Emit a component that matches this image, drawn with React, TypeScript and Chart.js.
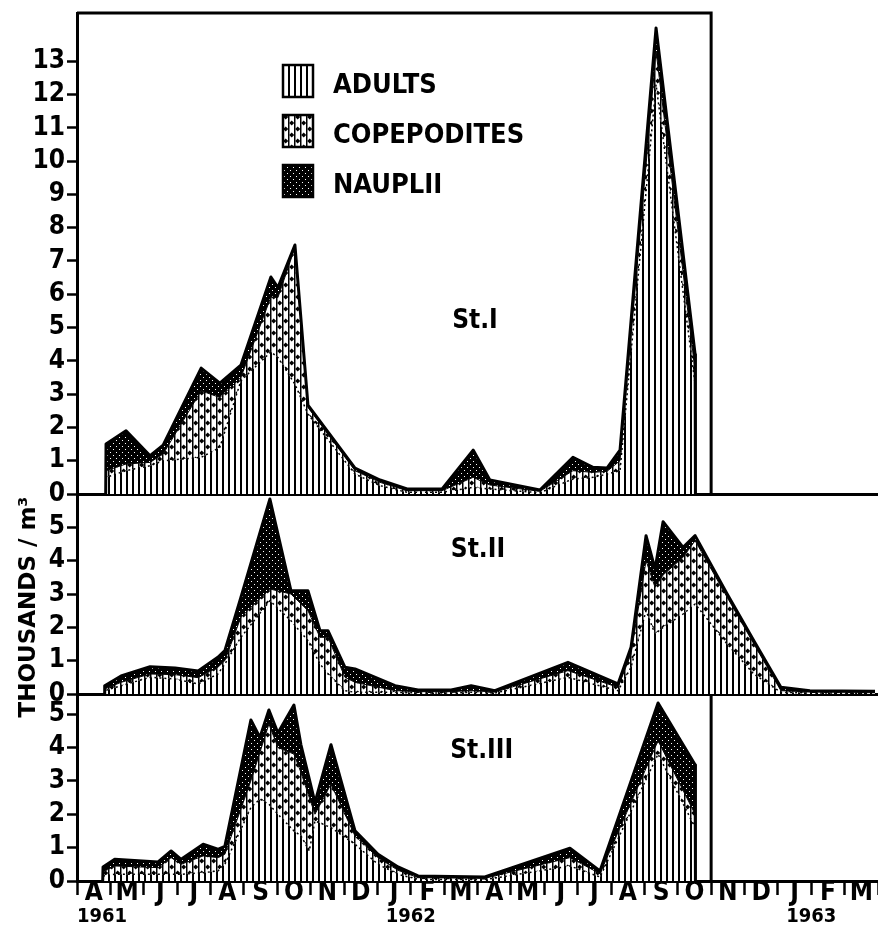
import React, { useEffect, useRef } from 'react';
import { Chart, registerables } from 'chart.js';

Chart.register(...registerables);

// ---------- DATA ----------
// x positions are months counted from 1 April 1961 (0 = start of April 1961)
const MONTH_LETTERS = ['A', 'M', 'J', 'J', 'A', 'S', 'O', 'N', 'D', 'J', 'F', 'M', 'A', 'M', 'J', 'J', 'A', 'S', 'O', 'N', 'D', 'J', 'F', 'M'];
const YEAR_LABELS = ['1961', '1962', '1963'];
const YEAR_POSITIONS = [0.75, 10, 22];
const Y1_TICKS = [0, 1, 2, 3, 4, 5, 6, 7, 8, 9, 10, 11, 12, 13];
const Y2_TICKS = [0, 1, 2, 3, 4, 5];
const Y3_TICKS = [0, 1, 2, 3, 4, 5];
const SERIES_NAMES = ['ADULTS', 'COPEPODITES', 'NAUPLII'];
const STATION_NAMES = ['St.I', 'St.II', 'St.III'];

// Station I (thousands / m3)
const ST1_MONTHS = [0.86, 0.87, 1.47, 2.19, 2.58, 3.72, 4.28, 4.91, 5.81, 6.02, 6.53, 6.92, 8.33, 9.08, 9.89, 10.94, 11.87, 12.37, 13.87, 14.86, 15.46, 15.88, 16.27, 17.35, 18.52, 18.53];
const ST1_ADULTS = [0, 0.5, 0.7, 0.85, 1.0, 1.1, 1.4, 3.4, 4.27, 4.1, 3.3, 2.4, 0.6, 0.25, 0.05, 0.05, 0.2, 0.15, 0.04, 0.45, 0.5, 0.6, 0.7, 12.3, 3.3, 0];
const ST1_COPEPODITES = [0, 0.2, 0.2, 0.1, 0.2, 2.0, 1.5, 0.1, 1.65, 1.8, 4.1, 0.2, 0.1, 0.1, 0.05, 0.05, 0.3, 0.12, 0.04, 0.25, 0.15, 0.08, 0.3, 1.0, 0.4, 0];
const ST1_NAUPLII = [0, 0.8, 1.0, 0.2, 0.27, 0.68, 0.43, 0.37, 0.6, 0.3, 0.08, 0.07, 0.08, 0.07, 0.05, 0.05, 0.82, 0.15, 0.04, 0.4, 0.15, 0.1, 0.32, 0.7, 0.5, 0];

// Station II
const ST2_MONTHS = [0.82, 0.83, 1.32, 2.19, 2.94, 3.63, 4.22, 4.43, 4.91, 5.78, 6.41, 6.92, 7.28, 7.52, 8.03, 8.33, 9.53, 10.22, 11.21, 11.81, 12.52, 14.71, 16.21, 16.6, 17.05, 17.32, 17.56, 18.16, 18.52, 19.48, 20.28, 21.09, 21.96, 23.91];
const ST2_ADULTS = [0, 0.1, 0.25, 0.5, 0.45, 0.3, 0.6, 0.9, 1.7, 2.8, 2.2, 1.6, 0.9, 0.6, 0.1, 0.05, 0.05, 0.03, 0.03, 0.05, 0.03, 0.5, 0.1, 0.8, 2.5, 1.8, 2.0, 2.4, 2.7, 1.5, 0.6, 0.05, 0.03, 0.02];
const ST2_COPEPODITES = [0, 0.05, 0.1, 0.1, 0.13, 0.19, 0.2, 0.1, 0.6, 0.35, 0.8, 0.9, 0.8, 1.1, 0.4, 0.3, 0.05, 0.04, 0.04, 0.05, 0.03, 0.2, 0.1, 0.4, 1.5, 1.4, 1.57, 1.7, 1.9, 1.4, 0.9, 0.05, 0.03, 0.03];
const ST2_NAUPLII = [0, 0.1, 0.19, 0.22, 0.2, 0.2, 0.3, 0.3, 0.6, 2.7, 0.1, 0.6, 0.2, 0.2, 0.3, 0.4, 0.15, 0.05, 0.05, 0.15, 0.04, 0.25, 0.1, 0.2, 0.75, 0.55, 1.6, 0.3, 0.15, 0.1, 0.1, 0.1, 0.04, 0.03];

// Station III
const ST3_MONTHS = [0.77, 0.78, 1.13, 2.43, 2.82, 3.12, 3.78, 4.22, 4.43, 5.21, 5.48, 5.75, 6.02, 6.5, 6.71, 6.96, 7.13, 7.61, 8.33, 9.02, 9.62, 10.22, 12.22, 14.77, 15.67, 17.41, 18.52, 18.53];
const ST3_ADULTS = [0, 0.15, 0.2, 0.2, 0.2, 0.2, 0.25, 0.3, 0.5, 2.2, 2.45, 2.3, 2.0, 1.5, 1.35, 0.9, 1.8, 1.6, 1.1, 0.5, 0.2, 0.05, 0.04, 0.45, 0.12, 3.8, 1.6, 0];
const ST3_COPEPODITES = [0, 0.12, 0.25, 0.2, 0.5, 0.3, 0.5, 0.4, 0.3, 0.8, 1.4, 2.4, 2.0, 2.3, 1.9, 1.6, 0.2, 1.3, 0.25, 0.2, 0.12, 0.05, 0.04, 0.25, 0.1, 0.4, 0.4, 0];
const ST3_NAUPLII = [0, 0.15, 0.2, 0.17, 0.2, 0.15, 0.35, 0.25, 0.24, 1.82, 0.45, 0.42, 0.43, 1.47, 0.83, 0.55, 0.35, 1.18, 0.15, 0.1, 0.1, 0.05, 0.04, 0.28, 0.08, 1.13, 1.48, 0];

// ---------- STYLE ----------
const COND = '"DejaVu Sans Condensed", "Liberation Sans Narrow", "DejaVu Sans", sans-serif';
const WIDE = '"DejaVu Sans", sans-serif';

function makePatterns() {
  const mk = (w: number, h: number, draw: (c: CanvasRenderingContext2D) => void) => {
    const cv = document.createElement('canvas');
    cv.width = w;
    cv.height = h;
    const c = cv.getContext('2d')!;
    draw(c);
    return c.createPattern(cv, 'repeat')!;
  };
  const adults = mk(6, 6, (c) => {
    c.fillStyle = '#fff';
    c.fillRect(0, 0, 6, 6);
    c.fillStyle = '#000';
    c.fillRect(0, 0, 2, 6);
  });
  const cope = mk(12, 12, (c) => {
    c.fillStyle = '#fff';
    c.fillRect(0, 0, 12, 12);
    c.fillStyle = '#000';
    c.fillRect(0, 0, 1.5, 12);
    c.fillRect(6, 0, 1.5, 12);
    const dia = (x: number, y: number) => {
      c.beginPath();
      c.moveTo(x, y - 2.5);
      c.lineTo(x + 2.5, y);
      c.lineTo(x, y + 2.5);
      c.lineTo(x - 2.5, y);
      c.closePath();
      c.fill();
    };
    dia(3.7, 3);
    dia(9.7, 9);
  });
  const naup = mk(6, 6, (c) => {
    c.fillStyle = '#000';
    c.fillRect(0, 0, 6, 6);
    c.fillStyle = '#fff';
    c.fillRect(2, 2, 1, 1);
    c.fillRect(5, 5, 1, 1);
  });
  return [adults, cope, naup];
}

const decorPlugin = {
  id: 'decor',
  afterDatasetsDraw(chart: any) {
    const { ctx } = chart;
    const x = chart.scales.x;
    const y1 = chart.scales.y1;
    const y2 = chart.scales.y2;
    const y3 = chart.scales.y3;
    ctx.save();
    ctx.strokeStyle = '#000';
    ctx.lineWidth = 3;
    const xr = x.getPixelForValue(19);
    ctx.beginPath();
    ctx.moveTo(x.left, y1.top);
    ctx.lineTo(xr, y1.top);
    ctx.lineTo(xr, y1.bottom);
    ctx.stroke();
    ctx.beginPath();
    ctx.moveTo(xr, y3.top);
    ctx.lineTo(xr, y3.bottom);
    ctx.stroke();

    // station names
    ctx.fillStyle = '#000';
    ctx.textBaseline = 'middle';
    ctx.textAlign = 'left';
    ctx.font = `bold 26px ${COND}`;
    ctx.fillText(STATION_NAMES[0], x.getPixelForValue(11.24), y1.getPixelForValue(5.2));
    ctx.fillText(STATION_NAMES[1], x.getPixelForValue(11.2), y2.getPixelForValue(4.3));
    ctx.fillText(STATION_NAMES[2], x.getPixelForValue(11.18), y3.getPixelForValue(3.9));

    // legend
    const ds = chart.data.datasets;
    for (let i = 0; i < 3; i++) {
      const cy = 81 + i * 50;
      ctx.fillStyle = ds[i].backgroundColor;
      ctx.fillRect(283, cy - 16, 30, 32);
      ctx.lineWidth = 2.5;
      ctx.strokeRect(283, cy - 16, 30, 32);
      ctx.fillStyle = '#000';
      ctx.font = `bold 27px ${COND}`;
      ctx.fillText(ds[i].label, 333, cy + 5);
    }

    // y title
    ctx.translate(29, 607);
    ctx.rotate(-Math.PI / 2);
    ctx.textAlign = 'center';
    ctx.font = `bold 23px ${WIDE}`;
    ctx.fillText('THOUSANDS / m\u00B3', 0, 0);
    ctx.restore();
  },
};

export default function App() {
  const ref = useRef<HTMLCanvasElement | null>(null);

  useEffect(() => {
    const canvas = ref.current!;
    const patterns = makePatterns();
    const panels = [
      { axis: 'y1', months: ST1_MONTHS, layers: [ST1_ADULTS, ST1_COPEPODITES, ST1_NAUPLII] },
      { axis: 'y2', months: ST2_MONTHS, layers: [ST2_ADULTS, ST2_COPEPODITES, ST2_NAUPLII] },
      { axis: 'y3', months: ST3_MONTHS, layers: [ST3_ADULTS, ST3_COPEPODITES, ST3_NAUPLII] },
    ];
    const datasets: any[] = [];
    panels.forEach((p) =>
      p.layers.forEach((vals, li) => {
        datasets.push({
          label: SERIES_NAMES[li],
          data: p.months.map((m, i) => ({ x: m, y: vals[i] })),
          yAxisID: p.axis,
          fill: li === 0 ? 'origin' : '-1',
          backgroundColor: patterns[li],
          borderColor: '#000',
          borderWidth: li === 2 ? 3 : li === 1 ? 1 : 1.5,
          borderDash: li === 0 ? [2, 3] : [],
          borderJoinStyle: 'round',
          pointRadius: 0,
          tension: 0,
        });
      })
    );

    const xTicks: number[] = [];
    for (let i = 0; i <= 24; i++) xTicks.push(i);
    for (let i = 0; i < 24; i++) xTicks.push(i + 0.5);
    xTicks.push(YEAR_POSITIONS[0]);
    xTicks.sort((a, b) => a - b);

    const isYear = (v: number) => YEAR_POSITIONS.indexOf(v) >= 0;
    const monthLabel = (v: number): any => {
      const yi = YEAR_POSITIONS.indexOf(v);
      if (yi >= 0) return ['', YEAR_LABELS[yi]];
      if (Math.abs(v - Math.floor(v) - 0.5) < 1e-6) return MONTH_LETTERS[Math.floor(v)];
      return '';
    };

    const yScale = (max: number, weight: number, ticks: number[]) => ({
      type: 'linear',
      position: 'left',
      stack: 'panels',
      stackWeight: weight,
      stacked: true,
      min: 0,
      max,
      afterBuildTicks: (s: any) => {
        s.ticks = ticks.map((v) => ({ value: v }));
      },
      afterFit: (s: any) => {
        s.width = 77;
        s.paddingTop = 0;
        s.paddingBottom = 0;
      },
      ticks: {
        color: '#000',
        padding: 2,
        autoSkip: false,
        font: { family: COND, size: 26, weight: 'bold' },
      },
      grid: {
        color: (c: any) => (c.tick && c.tick.value === 0 ? '#000' : 'rgba(0,0,0,0)'),
        lineWidth: 3,
        tickColor: '#000',
        tickLength: 10,
        tickWidth: 2.5,
      },
      border: { display: true, color: '#000', width: 3 },
    });

    // stacked left scales: the last one listed is placed on top
    const scales: any = {
      x: {
        type: 'linear',
        position: 'bottom',
        min: 0,
        max: 24,
        afterBuildTicks: (s: any) => {
          s.ticks = xTicks.map((v) => ({ value: v }));
        },
        afterFit: (s: any) => {
          s.height = 50;
          s.paddingLeft = 0;
          s.paddingRight = 0;
        },
        ticks: {
          autoSkip: false,
          maxRotation: 0,
          minRotation: 0,
          padding: -15,
          color: '#000',
          callback: (v: any) => monthLabel(Number(v)),
          font: (c: any) =>
            c.tick && isYear(c.tick.value)
              ? { family: COND, size: 20, weight: 'bold', lineHeight: 1.23 }
              : { family: COND, size: 26, weight: 'bold', lineHeight: 1.0 },
        },
        grid: {
          drawOnChartArea: false,
          tickLength: 14,
          tickWidth: 2.5,
          tickColor: (c: any) =>
            c.tick && Number.isInteger(c.tick.value) ? '#000' : 'rgba(0,0,0,0)',
        },
        border: { display: true, color: '#000', width: 3 },
      },
    };
    scales.y3 = yScale(5.6, 187, Y3_TICKS);
    scales.y2 = yScale(6.0, 200, Y2_TICKS);
    scales.y1 = yScale(14.45, 481, Y1_TICKS);

    const chart = new Chart(canvas, {
      type: 'line',
      data: { datasets },
      plugins: [decorPlugin],
      options: {
        responsive: false,
        animation: false,
        events: [],
        layout: { padding: { top: 13, left: 0, right: 0, bottom: 0 } },
        plugins: {
          legend: { display: false },
          tooltip: { enabled: false },
          filler: { drawTime: 'beforeDatasetsDraw' },
        },
        scales,
      } as any,
    });
    return () => chart.destroy();
  }, []);

  return (
    <div style={{ position: 'fixed', left: 0, top: 0, width: 878, height: 931, background: '#fff' }}>
      <canvas ref={ref} width={878} height={931} style={{ width: 878, height: 931, display: 'block' }} />
    </div>
  );
}
